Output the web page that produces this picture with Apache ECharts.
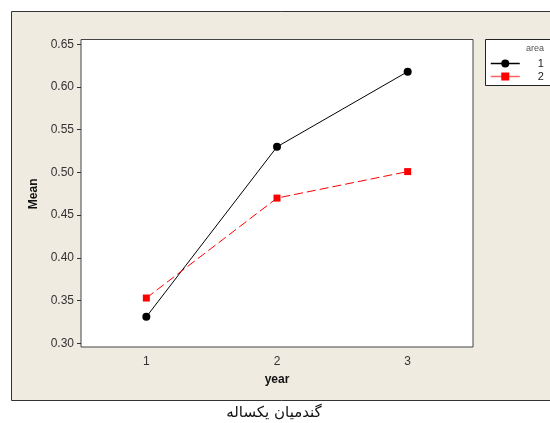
<!DOCTYPE html>
<html><head><meta charset="utf-8">
<script src="https://cdn.jsdelivr.net/npm/echarts@6/dist/echarts.min.js"></script>
<style>html,body{margin:0;padding:0;background:#fff}#c{width:550px;height:423px}</style>
</head><body><div id="c"></div>
<script>
const years = ['1', '2', '3'];
const area1 = [0.331, 0.530, 0.618];
const area2 = [0.353, 0.470, 0.501];
const yTicks = { min: 0.30, max: 0.65, interval: 0.05 };
const legendTitle = 'area';
const caption = 'گندمیان یکساله';

const chart = echarts.init(document.getElementById('c'), null, { renderer: 'canvas' });
const font = 'Liberation Sans, Arial, sans-serif';
chart.setOption({
  animation: false,
  backgroundColor: '#ffffff',
  graphic: [
    { type: 'rect', z: -10, shape: { x: 11.5, y: 11.5, width: 560, height: 389 },
      style: { fill: '#efebe1', stroke: '#333', lineWidth: 1 } },
    { type: 'rect', z: -5, shape: { x: 485.5, y: 39.5, width: 80, height: 46 },
      style: { fill: '#ffffff', stroke: '#222', lineWidth: 1 } },
    { type: 'text', z: 5, style: { x: 535, y: 49, text: legendTitle, fill: '#555', font: '9px ' + font, textAlign: 'center', textVerticalAlign: 'middle' } },
    { type: 'text', z: 5, style: { x: 274, y: 413, text: caption, fill: '#111', font: '15px DejaVu Sans', textAlign: 'center', textVerticalAlign: 'middle' } }
  ],
  grid: [
    { left: 81, top: 39.5, width: 392, height: 307.5, show: true, backgroundColor: '#fff', borderColor: '#444', borderWidth: 1, z: -1 },
    { left: 81, top: 44.3, width: 392, bottom: 79.7 }
  ],
  legend: {
    left: 485, top: 53, orient: 'vertical', itemWidth: 29, itemHeight: 10, itemGap: 2,
    formatter: '{a|{name}}',
    textStyle: { fontSize: 11, fontFamily: font, color: '#222',
      rich: { a: { width: 19, align: 'right', lineHeight: 12, fontSize: 11, fontFamily: font, color: '#222' } } },
    data: [
      { name: '1', lineStyle: { width: 1.5 } },
      { name: '2', lineStyle: { type: 'solid', color: '#ff6060', width: 1.5 } }
    ]
  },
  xAxis: [
    { gridIndex: 0, type: 'value', show: false, min: 0, max: 1 },
    { gridIndex: 1, type: 'category', data: years, boundaryGap: true, offset: 3.2,
      axisLine: { show: false },
      axisTick: { alignWithLabel: true, length: 4, lineStyle: { color: '#333' } },
      axisLabel: { fontSize: 12, fontFamily: font, color: '#333', margin: 9 },
      name: 'year', nameLocation: 'middle', nameGap: 27,
      nameTextStyle: { fontSize: 12, fontWeight: 'bold', fontFamily: font, color: '#111' } }
  ],
  yAxis: [
    { gridIndex: 1, type: 'value', min: yTicks.min, max: yTicks.max, interval: yTicks.interval,
      axisLine: { show: false }, splitLine: { show: false },
      axisTick: { show: true, inside: false, length: 4, lineStyle: { color: '#333' } },
      axisLabel: { fontSize: 12, fontFamily: font, color: '#333', margin: 7, formatter: v => v.toFixed(2) },
      name: 'Mean', nameLocation: 'middle', nameGap: 40,
      nameTextStyle: { fontSize: 12, fontWeight: 'bold', fontFamily: font, color: '#111' } },
    { gridIndex: 0, type: 'value', show: false, min: 0, max: 1 }
  ],
  series: [
    { name: '1', type: 'line', xAxisIndex: 1, yAxisIndex: 0, data: area1,
      symbol: 'circle', symbolSize: 8, color: '#000',
      lineStyle: { color: '#000', width: 1 }, itemStyle: { color: '#000' } },
    { name: '2', type: 'line', xAxisIndex: 1, yAxisIndex: 0, data: area2,
      symbol: 'rect', symbolSize: 7, color: '#ff0000',
      lineStyle: { color: '#ff0000', width: 1, type: [9, 4] }, itemStyle: { color: '#ff0000' } }
  ]
});
</script></body></html>
